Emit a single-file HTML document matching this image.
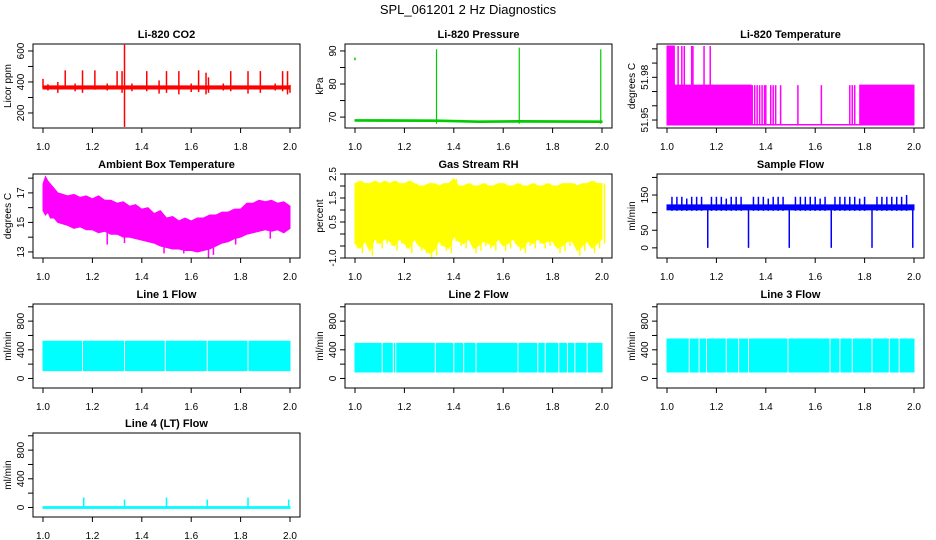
<!DOCTYPE html>
<html><head><meta charset="utf-8"><style>
html,body{margin:0;padding:0;background:#fff;}
svg{display:block;font-family:"Liberation Sans",sans-serif;}
</style></head><body>
<svg id="chart" width="936" height="540" xmlns="http://www.w3.org/2000/svg">
<text x="468" y="14" text-anchor="middle" font-size="13">SPL_061201  2 Hz Diagnostics</text>
</svg>
<script>
// ---- data arrays ----
const xTicks = [1.0, 1.2, 1.4, 1.6, 1.8, 2.0];
const xTickLabels = ["1.0","1.2","1.4","1.6","1.8","2.0"];
// CO2
const co2BandX = [1.0, 2.0];
const co2BandLo = [355, 355];
const co2BandHi = [375, 375];
const co2SpikeX = [1.0,1.02,1.06,1.09,1.13,1.16,1.21,1.26,1.30,1.32,1.33,1.36,1.42,1.47,1.50,1.55,1.60,1.63,1.66,1.67,1.73,1.76,1.83,1.88,1.94,1.97,1.99,2.0];
const co2SpikeLo = [360,345,330,365,340,330,350,345,360,330,110,340,340,325,330,320,335,335,320,330,345,340,325,330,345,340,320,330];
const co2SpikeHi = [420,385,400,475,390,475,475,390,470,470,640,390,470,410,470,470,390,475,460,430,390,470,470,470,390,470,470,380];
// Pressure
const presLineX = [1.0, 1.33, 1.5, 1.665, 2.0];
const presLineY = [69.0, 68.9, 68.6, 68.7, 68.6];
const presSpikeX = [1.33, 1.665, 1.995];
const presSpikeHi = [90.5, 91.0, 90.5];
const presSpikeLo = [68.0, 68.0, 68.0];
const presPointX = [1.0];
const presPointY = [87.6];
// Li-820 temperature
const ltBandX = [[1.0,1.34],[1.78,2.0]];
const ltBandHi = [51.9745, 51.9745];
const ltBaseLo = 51.9465;
const ltTopX = [1.0, 1.03];
const ltTopHi = 52.002;
const ltHighSpikes = [1.045,1.06,1.07,1.10,1.105,1.15,1.175];
const ltMidSpikes = [1.345,1.355,1.365,1.375,1.385,1.395,1.40,1.42,1.43,1.44,1.46,1.53,1.625,1.74,1.75,1.76];
// Ambient box temperature
const ambX  = [1.0, 1.01, 1.02, 1.03, 1.045, 1.06, 1.08, 1.10, 1.125, 1.15, 1.175, 1.20, 1.225, 1.25, 1.275, 1.30, 1.325, 1.35, 1.375, 1.40, 1.425, 1.45, 1.475, 1.50, 1.525, 1.55, 1.575, 1.60, 1.625, 1.65, 1.675, 1.70, 1.725, 1.75, 1.775, 1.80, 1.825, 1.85, 1.875, 1.90, 1.925, 1.95, 1.975, 2.0];
const ambHi = [17.6, 18.1, 17.8, 17.6, 17.3, 17.0, 16.9, 16.8, 16.9, 16.7, 16.8, 16.6, 16.8, 16.5, 16.5, 16.3, 16.4, 16.1, 16.2, 15.9, 16.0, 15.6, 15.8, 15.3, 15.4, 15.1, 15.3, 15.1, 15.3, 15.3, 15.5, 15.5, 15.7, 15.7, 15.9, 15.9, 16.3, 16.3, 16.5, 16.4, 16.5, 16.3, 16.4, 16.1];
const ambLo = [15.8, 15.5, 15.7, 15.3, 15.3, 15.0, 14.9, 14.8, 14.6, 14.7, 14.5, 14.5, 14.3, 14.4, 14.2, 14.2, 14.0, 14.0, 13.9, 13.8, 13.7, 13.6, 13.4, 13.3, 13.2, 13.2, 13.1, 13.1, 13.0, 13.1, 13.2, 13.4, 13.6, 13.7, 13.9, 14.0, 14.2, 14.3, 14.4, 14.5, 14.4, 14.5, 14.3, 14.6];
const ambDipX = [1.26, 1.33, 1.49, 1.57, 1.67, 1.69, 1.78, 1.92];
const ambDipY = [13.5, 13.6, 12.9, 12.9, 12.6, 12.8, 13.5, 13.9];
// Gas stream RH
const rhX  = [1.0,1.02,1.04,1.06,1.08,1.10,1.12,1.14,1.16,1.18,1.20,1.22,1.24,1.26,1.28,1.30,1.32,1.34,1.36,1.38,1.40,1.42,1.44,1.46,1.48,1.50,1.52,1.54,1.56,1.58,1.60,1.62,1.64,1.66,1.68,1.70,1.72,1.74,1.76,1.78,1.80,1.82,1.84,1.86,1.88,1.90,1.92,1.94,1.96,1.98,2.0];
const rhHi = [2.1,2.2,2.1,2.1,2.2,2.1,2.2,2.1,2.2,2.1,2.1,2.2,2.1,2.0,2.0,2.1,2.1,2.0,2.1,2.1,2.3,2.0,2.0,2.1,2.0,2.0,2.1,2.0,2.0,2.1,2.1,2.0,2.0,2.1,2.0,2.0,2.1,2.0,2.0,2.1,2.0,2.0,2.1,2.1,2.1,2.0,2.1,2.1,2.2,2.1,2.1];
const rhLo = [-0.4,-0.6,-0.3,-0.7,-0.2,-0.4,-0.2,-0.3,-0.5,-0.2,-0.4,-0.6,-0.2,-0.5,-0.6,-0.8,-0.7,-0.3,-0.5,-0.6,-0.1,-0.3,-0.4,-0.2,-0.6,-0.5,-0.3,-0.4,-0.5,-0.2,-0.5,-0.4,-0.2,-0.5,-0.6,-0.3,-0.4,-0.2,-0.4,-0.3,-0.3,-0.6,-0.5,-0.3,-0.3,-0.7,-0.5,-0.3,-0.6,-0.4,-0.2];
// Sample flow
const sfBandLo = [108, 108];
const sfBandHi = [122, 122];
const sfSpikeX = [1.02,1.04,1.06,1.08,1.10,1.12,1.14,1.18,1.20,1.22,1.24,1.26,1.28,1.30,1.35,1.37,1.39,1.41,1.43,1.45,1.47,1.52,1.54,1.56,1.58,1.60,1.62,1.64,1.68,1.70,1.72,1.74,1.76,1.78,1.80,1.85,1.87,1.89,1.91,1.93,1.95,1.97];
const sfSpikeHi = [145,145,145,140,145,145,145,145,145,145,140,145,145,145,145,145,145,140,145,145,145,145,145,145,145,145,140,145,145,145,145,145,145,140,145,145,145,145,145,145,145,150];
const sfDipX = [1.165, 1.33, 1.495, 1.665, 1.83, 1.995];
const sfDipLo = [0, 0, 0, 0, 0, 0];
// Line flows
const l1Lo = 110, l1Hi = 520;
const l1Gaps = [1.16, 1.33, 1.495, 1.665, 1.83];
const l2Lo = 90, l2Hi = 490;
const l2Gaps = [1.11, 1.155, 1.165, 1.325, 1.40, 1.44, 1.49, 1.66, 1.74, 1.77, 1.825, 1.86, 1.89, 1.94];
const l3Lo = 90, l3Hi = 550;
const l3Gaps = [1.09, 1.13, 1.16, 1.24, 1.29, 1.33, 1.49, 1.66, 1.70, 1.75, 1.83, 1.90, 1.94];
const l4Base = [0, 0];
const l4SpikeX = [1.165, 1.33, 1.5, 1.665, 1.83, 1.995];
const l4SpikeHi = [140, 110, 140, 110, 140, 110];

// ---- rendering ----
const svg = document.getElementById('chart');
const NS = 'http://www.w3.org/2000/svg';
function mk(tag, attrs, parent) {
  const e = document.createElementNS(NS, tag);
  for (const k in attrs) e.setAttribute(k, attrs[k]);
  (parent || svg).appendChild(e);
  return e;
}
const colL = [33, 345, 657];
const rowT = [44, 174, 304, 433];
const BW = 267, BH = 84;

function panel(col, row, title, ylab, ylim, yticks, ylabels, name) {
  const L = colL[col], T = rowT[row];
  const g = mk('g', {});
  
  
  const sx = v => L + 10 + (v - 1.0) / 1.0 * (BW - 20);
  const sy = v => T + BH - (v - ylim[0]) / (ylim[1] - ylim[0]) * BH;
  const plot = mk('g', {}, g);
  
  
  const box = mk('rect', {x: L, y: T, width: BW, height: BH, fill: 'none', stroke: '#000', 'stroke-width': 1}, g);
  
  
  const t = mk('text', {x: L + BW / 2, y: T - 6, 'text-anchor': 'middle', 'font-size': 11, 'font-weight': 'bold'}, g);
  t.textContent = title;
  
  
  const xa = mk('g', {}, g);
  
  
  mk('line', {x1: sx(xTicks[0]), x2: sx(xTicks[xTicks.length - 1]), y1: T + BH, y2: T + BH, stroke: '#000'}, xa);
  xTicks.forEach((v, i) => {
    mk('line', {x1: sx(v), x2: sx(v), y1: T + BH, y2: T + BH + 5, stroke: '#000'}, xa);
    const tl = mk('text', {x: sx(v), y: T + BH + 22, 'text-anchor': 'middle', 'font-size': 10}, xa);
    tl.textContent = xTickLabels[i];
    
    
  });
  const ya = mk('g', {}, g);
  
  
  mk('line', {x1: L, x2: L, y1: sy(yticks[0]), y2: sy(yticks[yticks.length - 1]), stroke: '#000'}, ya);
  yticks.forEach((v, i) => {
    mk('line', {x1: L - 5, x2: L, y1: sy(v), y2: sy(v), stroke: '#000'}, ya);
    if (ylabels[i]) {
      const yl = mk('text', {x: 0, y: 0, 'text-anchor': 'middle', 'font-size': 10, transform: 'translate(' + (L - 9) + ',' + sy(v) + ') rotate(-90)'}, ya);
      yl.textContent = ylabels[i];
      
      
    }
  });
  const yt = mk('text', {x: 0, y: 0, 'text-anchor': 'middle', 'font-size': 10, transform: 'translate(' + (L - 22) + ',' + (T + BH / 2) + ') rotate(-90)'}, g);
  yt.textContent = ylab;
  
  
  return {g: plot, sx, sy};
}
function band(p, xs, lo, hi, color) {
  let d = '';
  xs.forEach((x, i) => { d += (i ? 'L' : 'M') + p.sx(x) + ',' + p.sy(hi[i]); });
  for (let i = xs.length - 1; i >= 0; i--) d += 'L' + p.sx(xs[i]) + ',' + p.sy(lo[i]);
  const e = mk('path', {d: d + 'Z', fill: color, stroke: color, 'stroke-width': 1}, p.g);
  
  
}
function seg(p, x, y0, y1, color, w) {
  const e = mk('line', {x1: p.sx(x), x2: p.sx(x), y1: p.sy(y0), y2: p.sy(y1), stroke: color, 'stroke-width': w || 1.5}, p.g);
  
  
}
function gappedBand(p, lo, hi, gaps, color) {
  const edges = [1.0].concat(gaps).concat([2.0]);
  for (let i = 0; i < edges.length - 1; i++) {
    const a = i === 0 ? edges[i] : edges[i] + 0.004, b = i === edges.length - 2 ? edges[i + 1] : edges[i + 1] - 0.004;
    band(p, [a, b], [lo, lo], [hi, hi], color);
  }
}

let p = panel(0, 0, 'Li-820 CO2', 'Licor ppm', [103, 645], [200,300,400,500,600], ['200','','400','','600'], 'co2');
co2SpikeX.forEach((x, i) => seg(p, x, co2SpikeLo[i], co2SpikeHi[i], '#ff0000', 1.5));
band(p, co2BandX, co2BandLo, co2BandHi, '#ff0000');
p = panel(1, 0, 'Li-820 Pressure', 'kPa', [66.7, 92.1], [70,75,80,85,90], ['70','','80','','90'], 'pressure');
band(p, presLineX, presLineY.map(v => v - 0.25), presLineY.map(v => v + 0.25), '#00cc00');
presSpikeX.forEach((x, i) => seg(p, x, presSpikeLo[i], presSpikeHi[i], '#00cc00', 1.2));
presPointX.forEach((x, i) => seg(p, x, presPointY[i] - 0.4, presPointY[i] + 0.4, '#00cc00', 1.5));
p = panel(2, 0, 'Li-820 Temperature', 'degrees C', [51.9444, 52.0034], [51.95,51.96,51.97,51.98,51.99,52.00], ['51.95','','','51.98','',''], 'li820-temp');
ltBandX.forEach((xs, i) => band(p, xs, [ltBaseLo, ltBaseLo], [ltBandHi[i], ltBandHi[i]], '#ff00ff'));
band(p, ltTopX, [ltBaseLo, ltBaseLo], [ltTopHi, ltTopHi], '#ff00ff');
band(p, [1.34, 1.78], [ltBaseLo, ltBaseLo], [ltBaseLo + 0.0004, ltBaseLo + 0.0004], '#ff00ff');
ltHighSpikes.forEach(x => seg(p, x, ltBaseLo, ltTopHi, '#ff00ff', 1.5));
ltMidSpikes.forEach(x => seg(p, x, ltBaseLo, 51.9745, '#ff00ff', 1.5));
p = panel(0, 1, 'Ambient Box Temperature', 'degrees C', [12.59, 18.28], [13,14,15,16,17,18], ['13','','15','','17',''], 'ambient-temp');
band(p, ambX, ambLo, ambHi, '#ff00ff');
ambDipX.forEach((x, i) => seg(p, x, ambDipY[i], ambDipY[i] + 1.2, '#ff00ff', 1.5));
p = panel(1, 1, 'Gas Stream RH', 'percent', [-1.0, 2.5], [-1,-0.5,0,0.5,1,1.5,2,2.5], ['-1.0','','','0.5','','1.5','','2.5'], 'gas-rh');
band(p, rhX, rhLo, rhHi, '#ffff00');
rhX.forEach((x, i) => seg(p, x + 0.01, rhLo[i] - 0.2, rhHi[i], '#ffff00', 1.5));
p = panel(2, 1, 'Sample Flow', 'ml/min', [-28.8, 209.7], [0,50,100,150,200], ['0','50','','150',''], 'sample-flow');
sfSpikeX.forEach((x, i) => seg(p, x, 105, sfSpikeHi[i], '#0000ff', 1.5));
band(p, [1.0, 2.0], sfBandLo, sfBandHi, '#0000ff');
sfDipX.forEach((x, i) => seg(p, x, sfDipLo[i], 115, '#0000ff', 1.5));
const flowTicks = [0,200,400,600,800,1000], flowLabels = ['0','','400','','800',''];
p = panel(0, 2, 'Line 1 Flow', 'ml/min', [-133, 1039], flowTicks, flowLabels, 'line1-flow');
gappedBand(p, l1Lo, l1Hi, l1Gaps, '#00ffff');
p = panel(1, 2, 'Line 2 Flow', 'ml/min', [-133, 1039], flowTicks, flowLabels, 'line2-flow');
gappedBand(p, l2Lo, l2Hi, l2Gaps, '#00ffff');
p = panel(2, 2, 'Line 3 Flow', 'ml/min', [-133, 1039], flowTicks, flowLabels, 'line3-flow');
gappedBand(p, l3Lo, l3Hi, l3Gaps, '#00ffff');
p = panel(0, 3, 'Line 4 (LT) Flow', 'ml/min', [-133, 1039], flowTicks, flowLabels, 'line4-flow');
band(p, [1.0, 2.0], l4Base.map(v => v - 12), l4Base.map(v => v + 12), '#00ffff');
l4SpikeX.forEach((x, i) => seg(p, x, 0, l4SpikeHi[i], '#00ffff', 1.5));
</script>
</body></html>
